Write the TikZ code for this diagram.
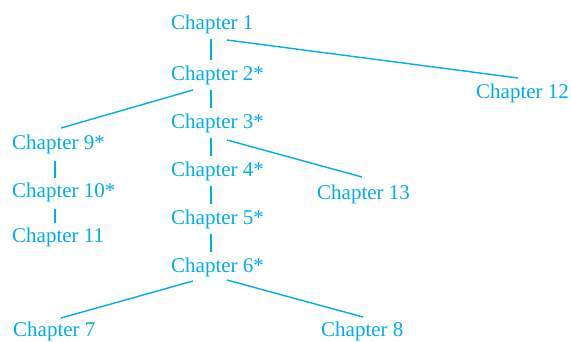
\documentclass[tikz,border=0pt]{standalone}
\usepackage{fontspec}
\setmainfont{Liberation Serif}
\usetikzlibrary{calc}
\definecolor{cyanink}{RGB}{0,172,236}
\begin{document}
\begin{tikzpicture}[x=1pt,y=-1pt,
  chap/.style={anchor=base west,inner sep=0pt,text=cyanink,font=\fontsize{21}{24}\selectfont},
  link/.style={draw=cyanink,line width=1.4pt}]
\useasboundingbox (0,0) rectangle (571,341);
\node[chap] (c1) at (171,29) {Chapter 1};
\node[chap] (c2) at (171,80) {Chapter 2*};
\node[chap] (c3) at (171,128) {Chapter 3*};
\node[chap] (c4) at (171,176) {Chapter 4*};
\node[chap] (c5) at (171,224) {Chapter 5*};
\node[chap] (c6) at (171,272) {Chapter 6*};
\node[chap] (c12) at (476,98) {Chapter 12};
\node[chap] (c9) at (12,149) {Chapter 9*};
\node[chap] (c10) at (12,197) {Chapter 10*};
\node[chap] (c11) at (12,242) {Chapter 11};
\node[chap] (c13) at (317,199) {Chapter 13};
\node[chap] (c7) at (13,336) {Chapter 7};
\node[chap] (c8) at (321,336) {Chapter 8};
% vertical links, main column
\foreach \a/\b in {c1/c2,c2/c3,c3/c4,c4/c5,c5/c6}
  \draw[link] ($(\a.base west)+(40,10)$) -- ($(\b.base west)+(40,-20)$);
% vertical links, left column
\foreach \a/\b in {c9/c10,c10/c11}
  \draw[link] ($(\a.base west)+(43,12)$) -- ($(\b.base west)+(43,-19)$);
% diagonal links
\draw[link] ($(c1.base west)+(56,11)$) -- ($(c12.base west)+(42,-20)$);
\draw[link] ($(c2.base west)+(22,10)$) -- ($(c9.base west)+(49,-21)$);
\draw[link] ($(c3.base west)+(56,12)$) -- ($(c13.base west)+(45,-22)$);
\draw[link] ($(c6.base west)+(22,9)$) -- ($(c7.base west)+(48,-18)$);
\draw[link] ($(c6.base west)+(56,8)$) -- ($(c8.base west)+(42,-19)$);
\end{tikzpicture}
\end{document}
